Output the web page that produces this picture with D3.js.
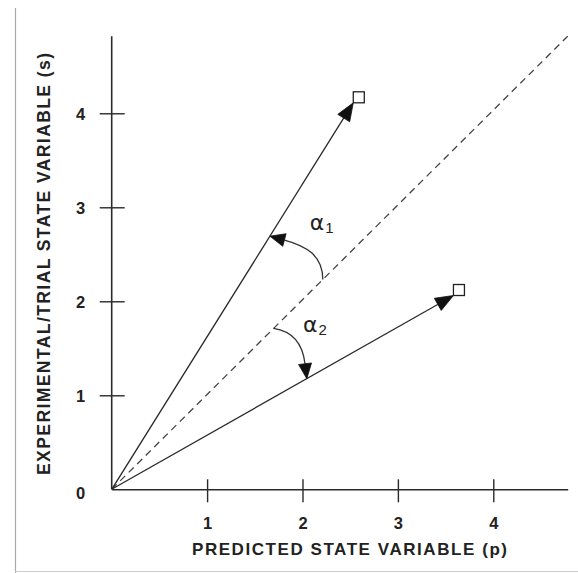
<!DOCTYPE html>
<html>
<head>
<meta charset="utf-8">
<script src="https://cdn.jsdelivr.net/npm/d3@7/dist/d3.min.js"></script>
<style>
  html, body { margin: 0; padding: 0; background: #fff; }
  svg { display: block; }
  text { font-family: "Liberation Sans", Arial, Helvetica, sans-serif; fill: #222; }
</style>
</head>
<body>
<svg id="chart" width="578" height="573"></svg>
<script>
// ---- data ----
const xTickValues = [1, 2, 3, 4];
const yTickValues = [0, 1, 2, 3, 4];
const vectorNames = ["1", "2"];
const vectorP = [2.59, 3.64];   // predicted state variable (p)
const vectorS = [4.17, 2.12];   // experimental/trial state variable (s)
const identityP = [0, 4.78];    // dashed line s = p
const identityS = [0, 4.82];
const xDomain = [0, 4.78];
const yDomain = [0, 4.82];
const xTitle = "PREDICTED STATE VARIABLE (p)";
const yTitle = "EXPERIMENTAL/TRIAL STATE VARIABLE (s)";
const angleSymbol = "α";
// angle annotations: fraction along dashed line where arc starts, fraction along vector where arrow ends
const angleStartFrac = [0.463, 0.355];
const angleEndFrac = [0.655, 0.571];
const angleLabelP = [2.2, 2.13];
const angleLabelS = [2.76, 1.67];

// ---- layout ----
const svg = d3.select("#chart");
const x = d3.scaleLinear().domain(xDomain).range([111.7, 567.7]);
const y = d3.scaleLinear().domain(yDomain).range([489.3, 36.2]);
const ink = "#2a2a2a";
const tickFont = 16.5;

// frame lines (scan border)
svg.append("line").attr("x1", 15.5).attr("x2", 15.5).attr("y1", 8).attr("y2", 573)
  .attr("stroke", "#aaa").attr("stroke-width", 1.2);
svg.append("line").attr("x1", 15).attr("x2", 578).attr("y1", 571.5).attr("y2", 571.5)
  .attr("stroke", "#ccc").attr("stroke-width", 1);

// x axis
const gx = svg.append("g").attr("transform", `translate(0,${y(0)})`)
  .call(d3.axisBottom(x).tickValues(xTickValues).tickSizeOuter(0).tickFormat(d3.format("d")));
gx.attr("font-size", tickFont).attr("font-family", "'Liberation Sans', Arial, sans-serif").attr("font-weight", "bold");
gx.select(".domain").attr("stroke", ink).attr("stroke-width", 1.6);
gx.selectAll(".tick line").attr("y1", -10).attr("y2", 13).attr("stroke", ink).attr("stroke-width", 1.4);
gx.selectAll(".tick text").attr("y", 39.5).attr("dy", 0)
  .attr("font-size", tickFont).style("font-size", tickFont + "px").style("font-weight", "bold").attr("fill", "#222");

// y axis
const gy = svg.append("g").attr("transform", `translate(${x(0)},0)`)
  .call(d3.axisLeft(y).tickValues(yTickValues).tickSizeOuter(0).tickFormat(d3.format("d")));
gy.attr("font-size", tickFont).attr("font-family", "'Liberation Sans', Arial, sans-serif").attr("font-weight", "bold");
gy.select(".domain").attr("stroke", ink).attr("stroke-width", 1.6)
  .attr("d", `M0,${y(0)}V${y.range()[1]}`);
gy.selectAll(".tick line").attr("x1", d => d === 0 ? 0 : -12).attr("x2", d => d === 0 ? 0 : 13)
  .attr("stroke", ink).attr("stroke-width", 1.4);
gy.selectAll(".tick text").attr("x", -31).attr("dy", d => d === 0 ? "0.55em" : "0.36em")
  .attr("text-anchor", "middle")
  .attr("font-size", tickFont).style("font-size", tickFont + "px").style("font-weight", "bold").attr("fill", "#222");

// axis titles
svg.append("text").attr("x", 349.5).attr("y", 555).attr("text-anchor", "middle")
  .attr("textLength", 315).attr("lengthAdjust", "spacing")
  .style("font-size", "17px").style("font-weight", "bold").text(xTitle);
svg.append("text").attr("transform", "translate(50,264) rotate(-90)").attr("text-anchor", "middle")
  .attr("textLength", 422).attr("lengthAdjust", "spacing")
  .style("font-size", "17.5px").style("font-weight", "bold").text(yTitle);

// dashed identity line
svg.append("line")
  .attr("x1", x(identityP[0])).attr("y1", y(identityS[0]))
  .attr("x2", x(identityP[1])).attr("y2", y(identityS[1]))
  .attr("stroke", "#444").attr("stroke-width", 1.3).attr("stroke-dasharray", "7,5");

// helpers
function arrowHead(g, tip, dir, len, half) {
  const n = Math.hypot(dir[0], dir[1]);
  const ux = dir[0] / n, uy = dir[1] / n;
  const bx = tip[0] - ux * len, by = tip[1] - uy * len;
  const px = -uy, py = ux;
  g.append("path")
    .attr("d", `M${tip[0]},${tip[1]}L${bx + px * half},${by + py * half}L${bx - px * half},${by - py * half}Z`)
    .attr("fill", "#111").attr("stroke", "#111").attr("stroke-width", 0.8).attr("stroke-linejoin", "miter");
  return [bx, by];
}

// vectors
const sq = 11;
const vectors = vectorNames.map((n, i) => ({ name: n, p: vectorP[i], s: vectorS[i] }));
const gv = svg.append("g");
vectors.forEach(v => {
  const cx = x(v.p), cy = y(v.s);
  const tip = [cx - sq / 2, cy + sq / 2];
  const o = [x(0), y(0)];
  const dir = [tip[0] - o[0], tip[1] - o[1]];
  const base = arrowHead(gv, tip, dir, 18, 7);
  gv.insert("line", ":first-child").attr("x1", o[0]).attr("y1", o[1]).attr("x2", base[0] + dir[0] * 0.01).attr("y2", base[1] + dir[1] * 0.01)
    .attr("stroke", ink).attr("stroke-width", 1.3);
  gv.append("rect").attr("x", cx - sq / 2).attr("y", cy - sq / 2).attr("width", sq).attr("height", sq)
    .attr("fill", "#fff").attr("stroke", "#222").attr("stroke-width", 1.3);
});

// angle arcs
const ga = svg.append("g");
vectors.forEach((v, i) => {
  const f0 = angleStartFrac[i], f1 = angleEndFrac[i];
  const S = [x(identityP[1] * f0), y(identityS[1] * f0)];
  const vt = [x(0) + (x(v.p) - sq / 2 - x(0)) * f1, y(0) + (y(v.s) + sq / 2 - y(0)) * f1];
  let startDir, endDir;
  if (i === 0) { startDir = [0, -1]; endDir = [-0.966, -0.258]; }
  else { startDir = [1, 0.15]; endDir = [0.12, 0.99]; }
  const len = 15;
  const B = arrowHead(ga, vt, endDir, len, 6.5);
  const dx = Math.abs(B[0] - S[0]), dy = Math.abs(B[1] - S[1]);
  const k = 0.6;
  const n1 = Math.hypot(...startDir), n2 = Math.hypot(...endDir);
  const a1 = i === 0 ? dy : dx, a2 = i === 0 ? dx : dy;
  const C1 = [S[0] + startDir[0] / n1 * k * a1, S[1] + startDir[1] / n1 * k * a1];
  const C2 = [B[0] - endDir[0] / n2 * k * a2, B[1] - endDir[1] / n2 * k * a2];
  const p = d3.path();
  p.moveTo(S[0], S[1]);
  p.bezierCurveTo(C1[0], C1[1], C2[0], C2[1], B[0], B[1]);
  ga.insert("path", ":first-child").attr("d", p.toString()).attr("fill", "none")
    .attr("stroke", "#333").attr("stroke-width", 1.3);

  const t = ga.append("text").attr("x", x(angleLabelP[i])).attr("y", y(angleLabelS[i]))
    .attr("text-anchor", "middle").style("font-family", "'DejaVu Sans', sans-serif")
    .style("font-size", "22px").attr("fill", "#333");
  t.append("tspan").text(angleSymbol);
  t.append("tspan").attr("dy", 3).attr("dx", 1).style("font-family", "'Liberation Sans', Arial, sans-serif")
    .style("font-size", "15px").text(v.name);
});
</script>
</body>
</html>
